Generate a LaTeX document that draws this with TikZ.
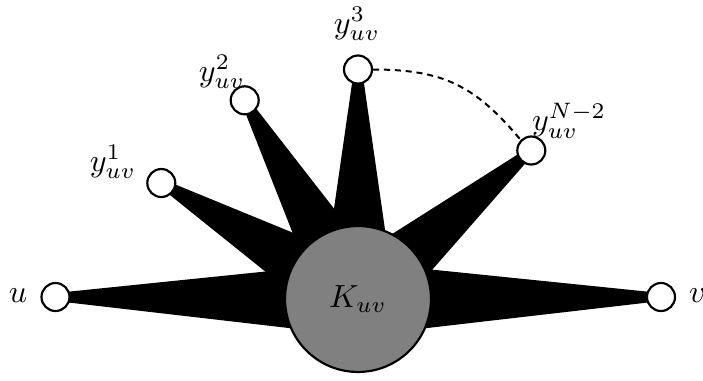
\documentclass[tikz,border=0pt]{standalone}
\usetikzlibrary{calc}
\pgfdeclarelayer{bg}
\pgfsetlayers{bg,main}
\begin{document}
\begin{tikzpicture}[x=0.3125pt,y=-0.3125pt,
  vtx/.style={circle,draw,line width=0.68pt,fill=white,minimum size=8.75pt,inner sep=0pt},
  hub/.style={circle,draw,line width=0.68pt,fill=gray,minimum size=45.6pt,inner sep=0pt},
  lbl/.style={inner sep=0pt},
  dashlink/.style={line width=0.62pt,dash pattern=on 1.9pt off 1.5pt}]
\useasboundingbox (0,0) rectangle (703,380);
\node[hub] (K) at (358,299) {$K_{uv}$};
\node[vtx] (u) at (55.5,297) {};
\node[vtx] (v) at (661,297) {};
\node[vtx] (y1) at (161.3,183) {};
\node[vtx] (y2) at (244.7,100.3) {};
\node[vtx] (y3) at (358,69.5) {};
\node[vtx] (yN) at (531.3,150.5) {};
\node[lbl] (lu) at (18,296) {$u$};
\node[lbl] (lv) at (697.5,296) {$v$};
\node[lbl] (l1) at (113,162) {$y^{1}_{uv}$};
\node[lbl] (l2) at (222,72) {$y^{2}_{uv}$};
\node[lbl] (l3) at (357,24) {$y^{3}_{uv}$};
\node[lbl] (lN) at (569,121) {$y^{N-2}_{uv}$};
\begin{pgfonlayer}{bg}
\foreach \s in {u,y1,y2,y3,yN,v}{
  \fill ($(\s.center)!1.25pt!-90:(K.center)$) -- ($(K.center)!11.56pt!90:(\s.center)$)
     -- ($(K.center)!11.56pt!-90:(\s.center)$) -- ($(\s.center)!1.25pt!90:(K.center)$) -- cycle;
}
\end{pgfonlayer}
\draw[dashlink] (y3.east) to[out=0,in=130,looseness=1.1] (yN.135);
\end{tikzpicture}
\end{document}
